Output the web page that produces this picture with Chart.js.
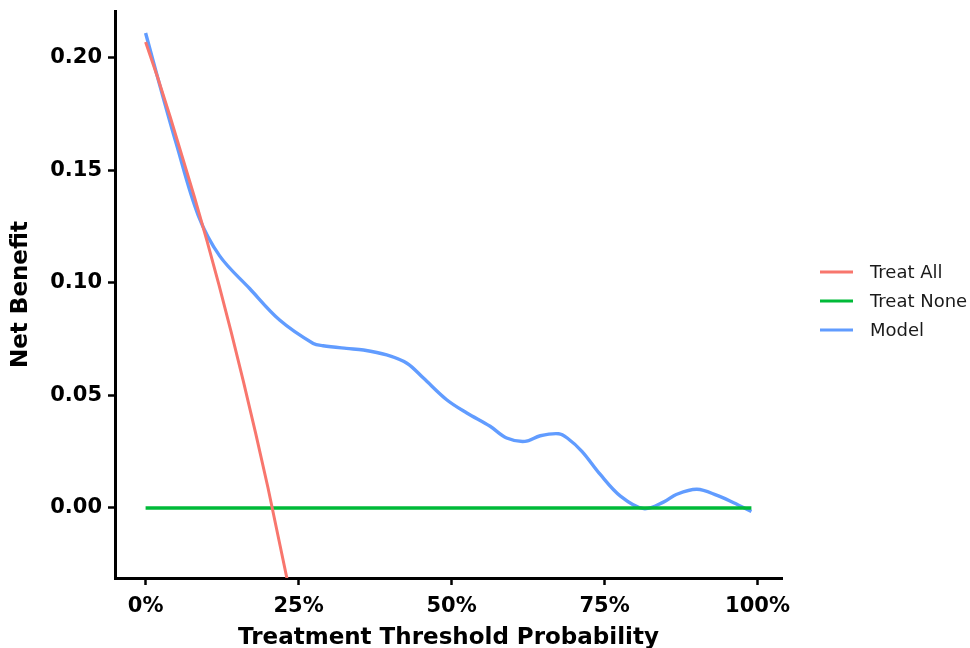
<!DOCTYPE html>
<html>
<head>
<meta charset="utf-8">
<script src="https://cdn.jsdelivr.net/npm/chart.js@4/dist/chart.umd.min.js"></script>
<style>
  html, body { margin: 0; padding: 0; background: #fff; }
  #wrap { width: 970px; height: 648px; }
</style>
</head>
<body>
<div id="wrap"><canvas id="dca" width="970" height="648"></canvas></div>
<script>
// threshold probabilities and net benefit
const treatAllX = [0, 0.02, 0.04, 0.06, 0.08, 0.10, 0.12, 0.14, 0.16, 0.18, 0.20, 0.22, 0.24];
const treatAllY = [0.207, 0.191, 0.174, 0.156, 0.138, 0.119, 0.099, 0.078, 0.056, 0.033, 0.009, -0.017, -0.043];

const treatNoneX = [0, 0.99];
const treatNoneY = [0, 0];

const modelX = [0, 0.023, 0.05, 0.086, 0.121, 0.17, 0.219, 0.274, 0.29, 0.328, 0.356, 0.394, 0.427, 0.454,
  0.492, 0.525, 0.563, 0.59, 0.62, 0.645, 0.675, 0.689, 0.713, 0.743, 0.776, 0.814, 0.847, 0.868,
  0.901, 0.934, 0.961, 0.99];
const modelY = [0.211, 0.188, 0.162, 0.130, 0.112, 0.0975, 0.0835, 0.0731, 0.0721, 0.0709, 0.0702, 0.068, 0.0643, 0.0577,
  0.0481, 0.0422, 0.0363, 0.0311, 0.0296, 0.0321, 0.0330, 0.0311, 0.0252, 0.0149, 0.0053, -0.0003, 0.0027, 0.0061,
  0.0083, 0.0056, 0.0023, -0.0016];

const xTicks = [0, 0.25, 0.5, 0.75, 1];
const yTicks = [0, 0.05, 0.10, 0.15, 0.20];

const COLORS = {
  all: '#F8766D',
  none: '#00BA38',
  model: '#619CFF',
};

const pts = (xs, ys) => xs.map((x, i) => ({ x, y: ys[i] }));

// legend drawn by hand so the line samples look like ggplot keys
const legendPlugin = {
  id: 'ggLegend',
  afterDraw(chart) {
    const ctx = chart.ctx;
    ctx.save();
    ctx.font = '18px "DejaVu Sans"';
    ctx.textBaseline = 'middle';
    chart.data.datasets.forEach((ds, i) => {
      const y = 272 + i * 29;
      ctx.strokeStyle = ds.borderColor;
      ctx.lineWidth = 3.2;
      ctx.beginPath();
      ctx.moveTo(820, y);
      ctx.lineTo(853, y);
      ctx.stroke();
      ctx.fillStyle = '#1a1a1a';
      ctx.fillText(ds.label, 870, y + 1);
    });
    ctx.restore();
  }
};

const tickFont = { family: 'DejaVu Sans', size: 21, weight: 'bold' };
const titleFont = { family: 'DejaVu Sans', size: 23, weight: 'bold', lineHeight: 1 };

new Chart(document.getElementById('dca'), {
  type: 'line',
  data: {
    datasets: [
      { label: 'Treat All', data: pts(treatAllX, treatAllY), borderColor: COLORS.all, borderWidth: 3 },
      { label: 'Treat None', data: pts(treatNoneX, treatNoneY), borderColor: COLORS.none },
      { label: 'Model', data: pts(modelX, modelY), borderColor: COLORS.model, tension: 0.35 },
    ].map(d => ({ borderWidth: 3.4, pointRadius: 0, fill: false, ...d })),
  },
  options: {
    responsive: false,
    animation: false,
    layout: { padding: { top: 11, right: 188, left: 0, bottom: 0 } },
    plugins: {
      legend: { display: false },
      tooltip: { enabled: false },
    },
    scales: {
      x: {
        type: 'linear',
        min: -0.05,
        max: 1.04,
        afterFit: s => { s.height = 70; },
        afterBuildTicks: s => { s.ticks = xTicks.map(v => ({ value: v })); },
        grid: { drawOnChartArea: false, color: '#000', tickLength: 7, tickWidth: 2.5 },
        border: { display: true, color: '#000', width: 3 },
        ticks: {
          color: '#000',
          font: tickFont,
          padding: 9,
          maxRotation: 0,
          callback: v => Math.round(v * 100) + '%',
        },
        title: {
          display: true,
          text: 'Treatment Threshold Probability',
          color: '#000',
          font: titleFont,
          padding: { top: 0, bottom: -2 },
        },
      },
      y: {
        min: -0.0311,
        max: 0.2208,
        afterFit: s => { s.width = 115; s.paddingTop = 0; s.paddingBottom = 0; },
        afterBuildTicks: s => { s.ticks = yTicks.map(v => ({ value: v })); },
        grid: { drawOnChartArea: false, color: '#000', tickLength: 7, tickWidth: 2.5 },
        border: { display: true, color: '#000', width: 3 },
        ticks: {
          color: '#000',
          font: tickFont,
          padding: 6,
          callback: v => v.toFixed(2),
        },
        title: {
          display: true,
          text: 'Net Benefit',
          color: '#000',
          font: titleFont,
          padding: { top: 10, bottom: 0 },
        },
      },
    },
  },
  plugins: [legendPlugin],
});
</script>
</body>
</html>
